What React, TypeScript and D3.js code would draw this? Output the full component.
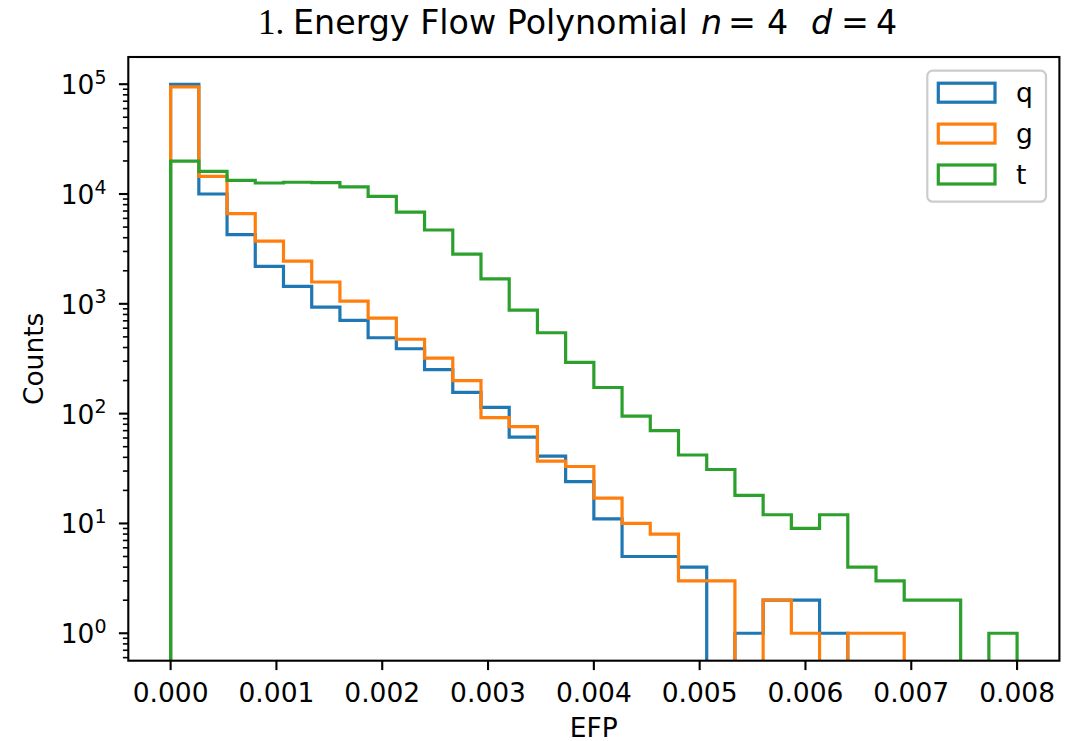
import React from "react";
import * as d3 from "d3";

// ---- data (30 bins from 0 to 0.008) ----
const binStart = 0;
const binEnd = 0.008;
const nBins = 30;
const seriesNames = ["q", "g", "t"];
const seriesColors = ["#1f77b4", "#ff7f0e", "#2ca02c"];
const qCounts = [99500, 10000, 4270, 2190, 1440, 933, 706, 491, 390, 252, 156, 114, 61, 41, 24, 11, 5, 5, 4, 0, 1, 2, 2, 1, 0, 0, 0, 0, 0, 0];
const gCounts = [94500, 14500, 6620, 3730, 2450, 1580, 1060, 741, 476, 320, 200, 92, 76, 37, 33, 17, 10, 8, 3, 3, 0, 2, 1, 0, 1, 1, 0, 0, 0, 0];
const tCounts = [19900, 16100, 13300, 12600, 12800, 12700, 11600, 9530, 6850, 4700, 2840, 1690, 877, 545, 293, 173, 95, 70, 42, 31, 18, 12, 9, 12, 4, 3, 2, 2, 0, 1];
const xTicks = [0, 0.001, 0.002, 0.003, 0.004, 0.005, 0.006, 0.007, 0.008];
const yTickExps = [0, 1, 2, 3, 4, 5];

const W = 1079;
const H = 741;
const L = 128.3, R = 1059.4, T = 57, B = 660.7;
const SANS = "DejaVu Sans";
const FS = 26.5;

export default function App() {
  const edges = d3.range(nBins + 1).map((i) => binStart + (i * (binEnd - binStart)) / nBins);
  const xm = (binEnd - binStart) * 0.05;
  const x = d3.scaleLinear().domain([binStart - xm, binEnd + xm]).range([L, R]);

  const all = [...qCounts, ...gCounts, ...tCounts].filter((v) => v > 0);
  const lmin = Math.log10(d3.min(all) as number);
  const lmax = Math.log10(d3.max(all) as number);
  const lm = (lmax - lmin) * 0.05;
  const y = d3.scaleLog().domain([Math.pow(10, lmin - lm), Math.pow(10, lmax + lm)]).range([B, T]);
  const yv = (v: number) => (v > 0 ? y(v) : B + 20);

  const stepPath = (counts: number[]) => {
    const p = d3.path();
    p.moveTo(x(edges[0]), B + 20);
    counts.forEach((v, i) => {
      p.lineTo(x(edges[i]), yv(v));
      p.lineTo(x(edges[i + 1]), yv(v));
    });
    p.lineTo(x(edges[nBins]), B + 20);
    return p.toString();
  };
  const series = [qCounts, gCounts, tCounts];

  const minor: number[] = [];
  const [d0, d1] = y.domain();
  for (let e = Math.floor(Math.log10(d0)); e <= Math.ceil(Math.log10(d1)); e++) {
    for (let m = 2; m <= 9; m++) {
      const v = m * Math.pow(10, e);
      if (v >= d0 && v <= d1) minor.push(v);
    }
  }

  const legRows = [92.7, 133.6, 174.5];

  return (
    <svg width={W} height={H} style={{ position: "absolute", left: 0, top: 0, background: "#fff" }} fontFamily={SANS}>
      <defs>
        <clipPath id="plotclip">
          <rect x={L} y={T} width={R - L} height={B - T} />
        </clipPath>
      </defs>
      <rect x={0} y={0} width={W} height={H} fill="#fff" />

      {/* title */}
      <text x={258} y={34} fontFamily="Liberation Serif" fontSize={35}>1.</text>
      <text x={293} y={34} fontSize={33.3}>Energy Flow Polynomial</text>
      <text x={701} y={34} fontSize={33.3} fontStyle="italic">n</text>
      <text x={728} y={34} fontSize={33.3}>=</text>
      <text x={767} y={34} fontSize={33.3}>4</text>
      <text x={811} y={34} fontSize={33.3} fontStyle="italic">d</text>
      <text x={841} y={34} fontSize={33.3}>=</text>
      <text x={876} y={34} fontSize={33.3}>4</text>

      {/* histograms */}
      <g clipPath="url(#plotclip)">
        {series.map((s, i) => (
          <path key={i} d={stepPath(s)} fill="none" stroke={seriesColors[i]} strokeWidth={3.2} strokeLinejoin="miter" />
        ))}
      </g>

      {/* spines */}
      <rect x={L} y={T} width={R - L} height={B - T} fill="none" stroke="#000" strokeWidth={2.1} />

      {/* x ticks */}
      {xTicks.map((t) => (
        <g key={t}>
          <line x1={x(t)} x2={x(t)} y1={B} y2={B + 9.4} stroke="#000" strokeWidth={2.1} />
          <text x={x(t)} y={701.7} textAnchor="middle" fontSize={FS}>{d3.format(".3f")(t)}</text>
        </g>
      ))}
      <text x={(L + R) / 2} y={736.5} textAnchor="middle" fontSize={FS}>EFP</text>

      {/* y ticks */}
      {minor.map((v) => (
        <line key={v} x1={L - 5.4} x2={L} y1={y(v)} y2={y(v)} stroke="#000" strokeWidth={1.6} />
      ))}
      {yTickExps.map((e) => {
        const v = Math.pow(10, e);
        return (
          <g key={e}>
            <line x1={L - 9.4} x2={L} y1={y(v)} y2={y(v)} stroke="#000" strokeWidth={2.1} />
            <text x={106.5} y={y(v) + 10} textAnchor="end" fontSize={FS}>
              10<tspan dy={-10.5} fontSize={19}>{e}</tspan>
            </text>
          </g>
        );
      })}
      <text transform={`translate(43,${(T + B) / 2}) rotate(-90)`} textAnchor="middle" fontSize={FS}>Counts</text>

      {/* legend */}
      <rect x={927.3} y={70.7} width={118.7} height={131} rx={5.4} fill="#fff" fillOpacity={0.8} stroke="#cccccc" strokeWidth={2.2} />
      {seriesNames.map((n, i) => (
        <g key={n}>
          <rect x={938.3} y={legRows[i] - 9.5} width={56.7} height={19} fill="none" stroke={seriesColors[i]} strokeWidth={3.2} />
          <text x={1016} y={legRows[i] + 9.2} fontSize={FS}>{n}</text>
        </g>
      ))}
    </svg>
  );
}
